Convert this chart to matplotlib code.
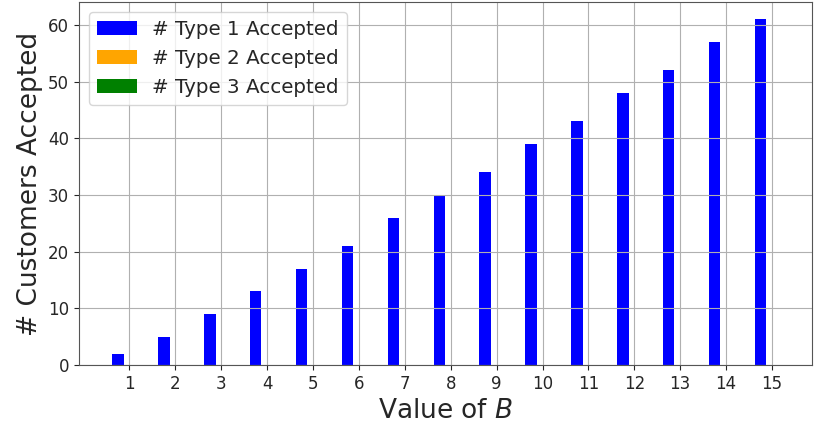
import matplotlib.pyplot as plt
import numpy as np

b_values = list(range(1, 16))
type1 = [2, 5, 9, 13, 17, 21, 26, 30, 34, 39, 43, 48, 52, 57, 61]
type2 = [0] * 15
type3 = [0] * 15

plt.rcParams["text.color"] = "#262626"
plt.rcParams["axes.labelcolor"] = "#262626"
plt.rcParams["xtick.color"] = "#262626"
plt.rcParams["ytick.color"] = "#262626"
plt.rcParams["axes.edgecolor"] = "#555555"

fig = plt.figure(figsize=(8.14, 4.29), dpi=100)
ax = fig.add_axes([0.097, 0.149, 0.9005, 0.846])

x = np.array(b_values)
w = 0.25
ax.bar(x - w, type1, w, color="blue", label="# Type 1 Accepted")
ax.bar(x, type2, w, color="orange", label="# Type 2 Accepted")
ax.bar(x + w, type3, w, color="green", label="# Type 3 Accepted")

ax.grid(True)
ax.set_xticks(b_values)
ax.set_xlim(-0.1, 15.87)
ax.set_ylim(0, 64.05)
ax.tick_params(labelsize=12)
ax.set_xlabel("Value of $B$", fontsize=19)
ax.set_ylabel("# Customers Accepted", fontsize=19)
ax.legend(loc="upper left", fontsize=14.3)

fig.savefig("out.png", dpi=100)
